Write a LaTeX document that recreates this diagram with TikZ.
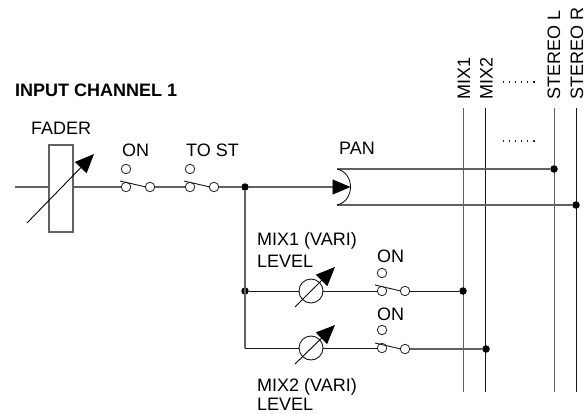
\documentclass[tikz,border=0pt]{standalone}
\usepackage{fontspec}
\setmainfont{Liberation Sans}
\usetikzlibrary{arrows.meta}
\definecolor{wire}{gray}{0.38}
\tikzset{
 x=1pt,y=-1pt,
 lbl/.style={inner sep=0pt,anchor=base west,font=\fontsize{18}{18}\selectfont,text=black},
 vlbl/.style={inner sep=0pt,anchor=base west,rotate=90,font=\fontsize{18}{18}\selectfont,text=black},
 grayw/.style={draw=wire,line width=1.1pt},
 blackw/.style={draw=black!90,line width=0.9pt},
 pin/.style={circle,draw=black!85,fill=white,line width=0.8pt,minimum size=9.5pt,inner sep=0pt},
 jdot/.style={circle,fill=black,minimum size=7.5pt,inner sep=0pt},
 faderbox/.style={rectangle,draw=wire,line width=1.1pt,fill=white,minimum width=24pt,minimum height=87pt,inner sep=0pt},
 meter/.style={circle,draw=black!90,fill=white,line width=0.9pt,minimum size=24pt,inner sep=0pt},
 varrow/.style={draw=black,line width=0.9pt,-{Triangle[length=19pt,width=16pt]}},
 lever/.style={draw=black!90,line width=0.9pt},
 dotsline/.style={draw=black!85,line width=1.2pt,dash pattern=on 1.5pt off 4.6pt},
}
\begin{document}
\begin{tikzpicture}
\useasboundingbox (0,0) rectangle (588,414);
% coordinates
\coordinate (in) at (15,187);
\coordinate (pana) at (337,169);
\coordinate (panb) at (337,205);
\coordinate (panc) at (350.5,187);
\coordinate (m2corner) at (245,348);
% buses
\foreach \n/\x/\c in {b1/463/wire,b2/485.5/black!90,b3/554/wire,b4/576/black!90}{
 \coordinate (\n t) at (\x,108);
 \coordinate (\n e) at (\x,392);
 \draw[draw=\c,line width=0.9pt] (\n t) -- (\n e);
}
% junctions
\node[jdot] (j1) at (245,187) {};
\node[jdot] (j2) at (245,291) {};
\node[jdot] (jl) at (554,169) {};
\node[jdot] (jr) at (576,205) {};
\node[jdot] (jm1) at (463,291) {};
\node[jdot] (jm2) at (486,349) {};
% switches
\node[pin] (s1a) at (126,187) {};
\node[pin] (s1b) at (150,187) {};
\node[pin] (s1t) at (126,169) {};
\node[pin] (s2a) at (190,187) {};
\node[pin] (s2b) at (214,187) {};
\node[pin] (s2t) at (190,169) {};
\node[pin] (s3a) at (382,291) {};
\node[pin] (s3b) at (405,291) {};
\node[pin] (s3t) at (382,273) {};
\node[pin] (s4a) at (382,348) {};
\node[pin] (s4b) at (405,349) {};
\node[pin] (s4t) at (382,330) {};
% fader and meters
\node[faderbox] (fader) at (61,188.5) {};
\node[meter] (m1) at (311,291) {};
\node[meter] (m2) at (311,348) {};
% main wires
\draw[grayw] (in) -- (fader.west |- in);
\draw[grayw] (fader.east |- in) -- (s1a);
\draw[grayw] (s1b) -- (s2a);
\draw[grayw] (s2b) -- (j1);
\draw[grayw] (j1) -- (m2corner);
\draw[blackw] (j2) -- (m1);
\draw[blackw] (m2corner) -- (m2);
\draw[blackw] (m1) -- (s3a);
\draw[blackw] (m2) -- (s4a);
\draw[blackw] (s3b) -- (jm1);
\draw[grayw] (s4b) -- (jm2);
\draw[grayw] (pana) -- (jl);
\draw[grayw] (panb) -- (jr);
% pan
\draw[grayw] (j1) -- (335,187);
\draw[black,line width=0.8pt] (pana) .. controls (346,171) and (350.5,179) .. (panc) .. controls (350.5,195) and (346,203) .. (panb);
\draw[draw=black,-{Triangle[length=18pt,width=15pt]},line width=0.9pt] (333,187) -- (panc);
% variable arrows
\coordinate (fa) at (27,223); \coordinate (fb) at (94,154);
\draw[varrow] (fa) -- (fb);
\coordinate (m1a) at (295,307); \coordinate (m1b) at (335,267);
\draw[varrow] (m1a) -- (m1b);
\coordinate (m2a) at (295,364); \coordinate (m2b) at (335,325);
\draw[varrow] (m2a) -- (m2b);
% levers
\foreach \n/\xa/\ya/\xb/\yb in {la/120/181/146/187,lb/184/181/210/187,lc/375/285/401/291,ld/375/343/401/349}{
 \coordinate (\n a) at (\xa,\ya); \coordinate (\n b) at (\xb,\yb);
 \draw[lever] (\n a) -- (\n b);
}
% labels
\node[lbl,font=\fontsize{18}{18}\selectfont\bfseries] (title) at (15,97) {INPUT CHANNEL 1};
\node[lbl] (tf) at (31,135) {FADER};
\node[lbl] (t1) at (122,157) {ON};
\node[lbl] (t2) at (186,157) {TO ST};
\node[lbl] (tp) at (339,154) {PAN};
\node[lbl] (t3) at (257,245) {MIX1 (VARI)};
\node[lbl] (t3b) at (257,267) {LEVEL};
\node[lbl] (t4) at (377,262) {ON};
\node[lbl] (t5) at (377,320) {ON};
\node[lbl] (t6) at (257,391) {MIX2 (VARI)};
\node[lbl] (t6b) at (257,410.5) {LEVEL};
\node[vlbl] (v1) at (470,100) {MIX1};
\node[vlbl] (v2) at (492.5,100) {MIX2};
\node[vlbl] (v3) at (560,100) {STEREO L};
\node[vlbl] (v4) at (583,100) {STEREO R};
\coordinate (d1a) at (502.5,82); \coordinate (d1b) at (536,82);
\coordinate (d2a) at (502.5,141); \coordinate (d2b) at (536,141);
\draw[dotsline] (d1a) -- (d1b);
\draw[dotsline] (d2a) -- (d2b);
\end{tikzpicture}
\end{document}
